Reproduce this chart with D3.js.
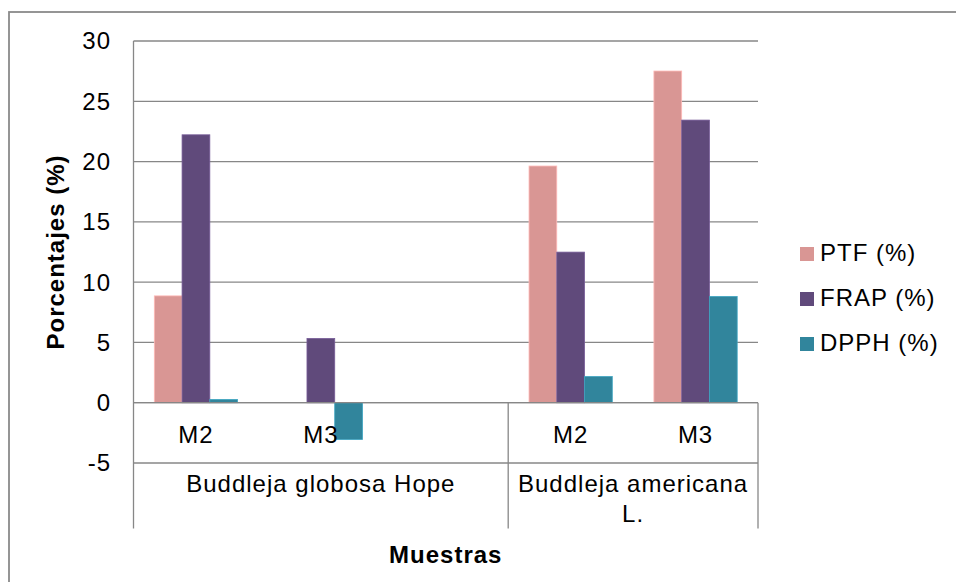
<!DOCTYPE html>
<html>
<head>
<meta charset="utf-8">
<script src="https://cdn.jsdelivr.net/npm/d3@7"></script>
<style>
  html, body { margin: 0; padding: 0; background: #fff; }
  svg { display: block; }
  text { font-family: "Liberation Sans", Arial, sans-serif; fill: #000; }
</style>
</head>
<body>
<svg id="chart" width="956" height="582"></svg>
<script>
// Samples (inner level) and species (outer level) of the category axis
const samples = ["M2", "M3", "", "M2", "M3"];
const species = ["Buddleja globosa Hope", "Buddleja americana L."];
const speciesSpan = [3, 2];

// Series
const seriesNames = ["PTF (%)", "FRAP (%)", "DPPH (%)"];
const seriesColors = ["#D99694", "#604A7B", "#31859C"];
const ptf  = [8.86, null, null, 19.63, 27.51];
const frap = [22.22, 5.33, null, 12.49, 23.44];
const dpph = [0.27, -3.05, null, 2.17, 8.81];
const seriesValues = [ptf, frap, dpph];

// Value axis
const yTicks = [-5, 0, 5, 10, 15, 20, 25, 30];

const svg = d3.select("#chart");
const fontSize = 24;
const spacing = "1px";

const plot = { left: 133.5, right: 758, top: 41, bottom: 463, axisBottom: 528.5 };

// Outer chart border
svg.append("rect")
  .attr("x", 9).attr("y", 12)
  .attr("width", 1000).attr("height", 1000)
  .attr("fill", "none")
  .attr("stroke", "#8a8a8a")
  .attr("stroke-width", 1.8);

const x = d3.scaleBand()
  .domain(d3.range(samples.length))
  .range([plot.left, plot.right])
  .paddingInner(0).paddingOuter(0);

const xSeries = d3.scaleBand()
  .domain(d3.range(seriesNames.length))
  .range([0, x.bandwidth()])
  .paddingInner(0).paddingOuter(0.75);

const y = d3.scaleLinear()
  .domain([d3.min(yTicks), d3.max(yTicks)])
  .range([plot.bottom, plot.top]);

const lineColor = "#878787";

// Horizontal gridlines
svg.append("g")
  .selectAll("line")
  .data(yTicks)
  .join("line")
  .attr("x1", plot.left).attr("x2", plot.right)
  .attr("y1", d => y(d)).attr("y2", d => y(d))
  .attr("stroke", lineColor)
  .attr("stroke-width", 1.3);

// Value axis labels
svg.append("g")
  .selectAll("text")
  .data(yTicks)
  .join("text")
  .attr("x", 111)
  .attr("y", d => y(d))
  .attr("dy", "0.35em")
  .attr("text-anchor", "end")
  .style("font-size", fontSize + "px")
  .style("letter-spacing", spacing)
  .text(d => d);

// Bars
const bars = svg.append("g");
seriesValues.forEach((vals, s) => {
  bars.append("g")
    .selectAll("rect")
    .data(vals.map((v, i) => ({ i, v })).filter(d => d.v !== null))
    .join("rect")
    .attr("x", d => x(d.i) + xSeries(s))
    .attr("width", xSeries.bandwidth())
    .attr("y", d => y(Math.max(0, d.v)))
    .attr("height", d => Math.abs(y(d.v) - y(0)))
    .attr("fill", seriesColors[s])
    .attr("stroke", d3.color(seriesColors[s]).brighter(0.6))
    .attr("stroke-width", 0.8);
});

// Category axis: zero line, left axis and species separators
svg.append("line")
  .attr("x1", plot.left).attr("x2", plot.right)
  .attr("y1", y(0)).attr("y2", y(0))
  .attr("stroke", lineColor).attr("stroke-width", 1.3);

svg.append("line")
  .attr("x1", plot.left).attr("x2", plot.left)
  .attr("y1", plot.top).attr("y2", plot.axisBottom)
  .attr("stroke", lineColor).attr("stroke-width", 1.3);

const bounds = [];
let acc = 0;
speciesSpan.forEach(n => { acc += n; bounds.push(acc); });
svg.append("g")
  .selectAll("line")
  .data(bounds)
  .join("line")
  .attr("x1", d => x(d - 1) + x.bandwidth())
  .attr("x2", d => x(d - 1) + x.bandwidth())
  .attr("y1", y(0)).attr("y2", plot.axisBottom)
  .attr("stroke", lineColor).attr("stroke-width", 1.3);

// Sample labels
svg.append("g")
  .selectAll("text")
  .data(samples)
  .join("text")
  .attr("x", (d, i) => x(i) + x.bandwidth() / 2)
  .attr("y", 443)
  .attr("text-anchor", "middle")
  .style("font-size", fontSize + "px")
  .style("letter-spacing", spacing)
  .text(d => d);

// Species labels, wrapped to the width of their span
let start = 0;
species.forEach((name, k) => {
  const i0 = start, i1 = start + speciesSpan[k] - 1;
  start += speciesSpan[k];
  const x0 = x(i0), x1 = x(i1) + x.bandwidth();
  const cx = (x0 + x1) / 2;
  const maxW = x1 - x0 - 4;
  const t = svg.append("text")
    .attr("text-anchor", "middle")
    .style("font-size", fontSize + "px")
    .style("letter-spacing", spacing);
  const words = name.split(" ");
  let line = [];
  let lineNo = 0;
  let tspan = t.append("tspan").attr("x", cx).attr("y", 492);
  words.forEach(w => {
    line.push(w);
    tspan.text(line.join(" "));
    if (tspan.node().getComputedTextLength() > maxW && line.length > 1) {
      line.pop();
      tspan.text(line.join(" "));
      line = [w];
      lineNo += 1;
      tspan = t.append("tspan").attr("x", cx).attr("y", 492 + lineNo * 29.5).text(w);
    }
  });
});

// Axis titles
svg.append("text")
  .attr("x", (plot.left + plot.right) / 2)
  .attr("y", 563)
  .attr("text-anchor", "middle")
  .style("font-size", fontSize + "px")
  .style("font-weight", "bold")
  .style("letter-spacing", spacing)
  .text("Muestras");

svg.append("text")
  .attr("transform", `translate(64,${(plot.top + plot.bottom) / 2}) rotate(-90)`)
  .attr("text-anchor", "middle")
  .style("font-size", fontSize + "px")
  .style("font-weight", "bold")
  .style("letter-spacing", spacing)
  .text("Porcentajes (%)");

// Legend
const legend = svg.append("g")
  .selectAll("g")
  .data(seriesNames)
  .join("g")
  .attr("transform", (d, i) => `translate(800,${254 + i * 45})`);

legend.append("rect")
  .attr("x", 0).attr("y", -7)
  .attr("width", 14).attr("height", 14)
  .attr("fill", (d, i) => seriesColors[i]);

legend.append("text")
  .attr("x", 20)
  .attr("y", 0)
  .attr("dy", "0.3em")
  .style("font-size", fontSize + "px")
  .style("letter-spacing", spacing)
  .text(d => d);
</script>
</body>
</html>
